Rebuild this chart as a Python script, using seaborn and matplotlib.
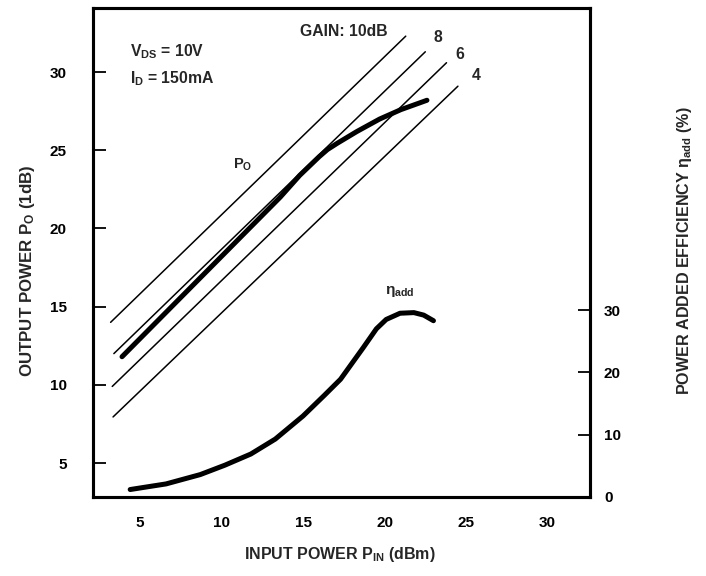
import matplotlib
matplotlib.use("Agg")
import matplotlib.pyplot as plt
import seaborn as sns
import pandas as pd

# ---------------- data ----------------
gain_labels = ["10", "8", "6", "4"]
gain_pin_start = [3.2, 3.4, 3.3, 3.35]
gain_pin_end = [21.3, 22.5, 23.8, 24.5]
gain_po_start = [14.0, 12.0, 9.9, 7.95]
gain_po_end = [32.3, 31.3, 30.6, 29.1]

po_pin = [3.9, 13.6, 14.8, 16.0, 16.5, 17.1, 18.3, 19.7, 21.0, 21.8, 22.6]
po_out = [11.8, 22.0, 23.4, 24.6, 25.05, 25.45, 26.2, 27.0, 27.6, 27.9, 28.2]

eff_pin = [4.4, 6.6, 8.7, 10.2, 11.8, 13.3, 15.0, 16.3, 17.3, 18.7, 19.5, 20.1, 20.95, 21.8, 22.4, 23.0]
eff_val = [1.2, 2.1, 3.6, 5.1, 6.9, 9.3, 13.0, 16.3, 18.9, 24.0, 27.0, 28.5, 29.5, 29.6, 29.2, 28.3]

x_ticks = [5, 10, 15, 20, 25, 30]
y_ticks = [5, 10, 15, 20, 25, 30]
eff_ticks = [0, 10, 20, 30]

# ---------------- style ----------------
sns.set_style("white")
plt.rcParams["font.family"] = ["Liberation Sans", "DejaVu Sans"]
plt.rcParams["font.weight"] = "bold"
plt.rcParams["mathtext.fontset"] = "custom"
plt.rcParams["mathtext.rm"] = "Liberation Sans:bold"
plt.rcParams["mathtext.bf"] = "Liberation Sans:bold"
plt.rcParams["mathtext.it"] = "Liberation Sans:bold"

fig = plt.figure(figsize=(7.06, 5.76), dpi=100)
ax = fig.add_axes([93 / 706, 1 - 497 / 576, (590 - 93) / 706, (497 - 8) / 576])

# gain reference lines
gain_df = pd.DataFrame({
    "pin": gain_pin_start + gain_pin_end,
    "po": gain_po_start + gain_po_end,
    "gain": gain_labels + gain_labels,
})
for g in gain_labels:
    sub = gain_df[gain_df["gain"] == g]
    sns.lineplot(data=sub, x="pin", y="po", ax=ax, color="black", lw=1.1,
                 sort=True, estimator=None)

# output power curve
po_df = pd.DataFrame({"pin": po_pin, "po": po_out})
sns.lineplot(data=po_df, x="pin", y="po", ax=ax, color="black", lw=3.6,
             estimator=None, solid_capstyle="round", solid_joinstyle="round")

ax.set_xlim(2.12, 32.6)
ax.set_ylim(2.83, 34.1)
ax.set_xticks(x_ticks)
ax.set_yticks(y_ticks)
ax.set_xlabel("")
ax.set_ylabel("")
ax.tick_params(axis="both", direction="in", length=8, width=1.3,
               labelsize=11, colors="black")
ax.tick_params(axis="y", pad=19, length=9)
ax.tick_params(axis="x", pad=14)
for s in ax.spines.values():
    s.set_visible(True)
    s.set_linewidth(2.2)
    s.set_color("black")

# efficiency on right axis
ax2 = ax.twinx()
eff_df = pd.DataFrame({"pin": eff_pin, "eff": eff_val})
sns.lineplot(data=eff_df, x="pin", y="eff", ax=ax2, color="black", lw=3.6,
             estimator=None, solid_capstyle="round", solid_joinstyle="round")
ax2.set_ylim(0, 78.5)
ax2.set_yticks(eff_ticks)
ax2.set_ylabel("")
ax2.tick_params(axis="y", direction="in", length=9, width=1.3,
                labelsize=11, pad=10, colors="black")
for s in ax2.spines.values():
    s.set_linewidth(2.2)
    s.set_color("black")

# annotations
fs = 11.3
ax.text(14.8, 32.6, "GAIN: 10dB", fontsize=fs, fontweight="bold", ha="left", va="center")
ax.text(23.3, 32.2, "8", fontsize=fs, fontweight="bold", ha="center", va="center")
ax.text(24.6, 31.1, "6", fontsize=fs, fontweight="bold", ha="center", va="center")
ax.text(25.6, 29.8, "4", fontsize=fs, fontweight="bold", ha="center", va="center")
ax.text(4.39, 31.28, r"V$_{\mathrm{DS}}$ = 10V", fontsize=fs, fontweight="bold", ha="left", va="center")
ax.text(4.39, 29.6, r"I$_{\mathrm{D}}$ = 150mA", fontsize=fs, fontweight="bold", ha="left", va="center")
ax.text(10.7, 24.1, r"P$_{\mathrm{O}}$", fontsize=10.5, fontweight="bold", ha="left", va="center")
ax.text(20.0, 16.0, "η$_{\\mathrm{add}}$", fontsize=11, fontweight="bold", ha="left", va="center")

# axis labels
fig.text(340 / 706, 1 - 555 / 576, r"INPUT POWER P$_{\mathrm{IN}}$ (dBm)",
         fontsize=11.5, fontweight="bold", ha="center", va="center")
fig.text(28 / 706, 1 - 271 / 576, r"OUTPUT POWER P$_{\mathrm{O}}$ (1dB)",
         fontsize=12.2, fontweight="bold", ha="center", va="center", rotation=90)
fig.text(685 / 706, 1 - 251 / 576, "POWER ADDED EFFICIENCY η$_{\\mathrm{add}}$ (%)",
         fontsize=11.6, fontweight="bold", ha="center", va="center", rotation=90)

fig.savefig("out.png", dpi=100)
